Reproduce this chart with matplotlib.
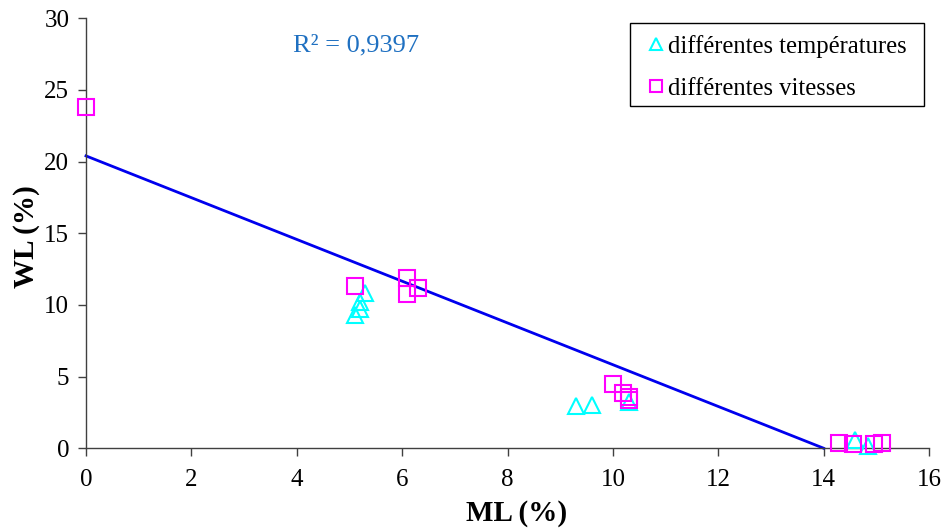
import matplotlib
matplotlib.use("Agg")
import matplotlib.pyplot as plt
from matplotlib.patches import Rectangle
import numpy as np

plt.rcParams['font.family'] = ['Liberation Serif', 'DejaVu Serif']

# Data
temp_ml = [5.1, 5.2, 5.2, 5.3, 9.3, 9.6, 10.3, 14.6, 14.85]
temp_wl = [9.3, 9.7, 10.2, 10.8, 2.95, 3.0, 3.2, 0.55, 0.15]
speed_ml = [0.0, 5.1, 6.1, 6.1, 6.3, 10.0, 10.2, 10.3, 10.3, 14.3, 14.55, 14.95, 15.1]
speed_wl = [23.8, 11.35, 11.85, 10.75, 11.2, 4.45, 3.85, 3.6, 3.35, 0.35, 0.3, 0.3, 0.35]
fit_intercept = 20.4
fit_slope = -1.457
fit_x = [0.0, 14.0]
r2_text = "R² = 0,9397"
xticks = [0, 2, 4, 6, 8, 10, 12, 14, 16]
yticks = [0, 5, 10, 15, 20, 25, 30]

fig = plt.figure(figsize=(9.46, 5.29), dpi=100)
ax = fig.add_axes([0.0909, 0.1526, 0.8912, 0.8128])

fx = np.array(fit_x)
ax.plot(fx, fit_intercept + fit_slope * fx, color='#0000EE', lw=2, zorder=2)

ax.plot(temp_ml, temp_wl, linestyle='none', marker='^', markersize=12,
        markerfacecolor='none', markeredgecolor='#00FFFF', markeredgewidth=1.5,
        label='différentes températures', zorder=3)
ax.plot(speed_ml, speed_wl, linestyle='none', marker='s', markersize=11.5,
        markerfacecolor='none', markeredgecolor='#FF00FF', markeredgewidth=1.5,
        label='différentes vitesses', zorder=4)

ax.set_xlim(0, 16)
ax.set_ylim(0, 30)
ax.set_xticks(xticks)
ax.set_yticks(yticks)
ax.tick_params(labelsize=18, direction='out', length=6, color='#404040', width=1)
ax.tick_params(axis='x', pad=9)
ax.tick_params(axis='y', pad=6)
for s in ['top', 'right']:
    ax.spines[s].set_visible(False)
for s in ['left', 'bottom']:
    ax.spines[s].set_color('#404040')
    ax.spines[s].set_linewidth(1)
for line in ax.lines:
    line.set_clip_on(False)

ax.set_xlabel('ML (%)', fontsize=21, fontweight='bold')
ax.set_ylabel('WL (%)', fontsize=21, fontweight='bold')
ax.xaxis.set_label_coords(0.511, -0.151)
ax.xaxis.label.set_verticalalignment('center')
ax.yaxis.set_label_coords(-0.071, 0.492)
ax.yaxis.label.set_verticalalignment('center')

ax.text(5.12, 28.1, r2_text, fontsize=19, color='#1F70C1', ha='center', va='center')

# legend frame
ax.add_patch(Rectangle((0.6453, 0.7958), 0.3488, 0.1926, transform=ax.transAxes,
                       facecolor='white', edgecolor='black', lw=1, zorder=5,
                       clip_on=False))
leg = ax.legend(loc='upper left', bbox_to_anchor=(0.6512, 0.9838), borderaxespad=0,
                fontsize=17.7, frameon=False,
                handlelength=0.9, handletextpad=0.05, borderpad=0.4, labelspacing=0.8,
                markerscale=0.75)
leg.set_zorder(6)

fig.savefig('out.png', dpi=100)
